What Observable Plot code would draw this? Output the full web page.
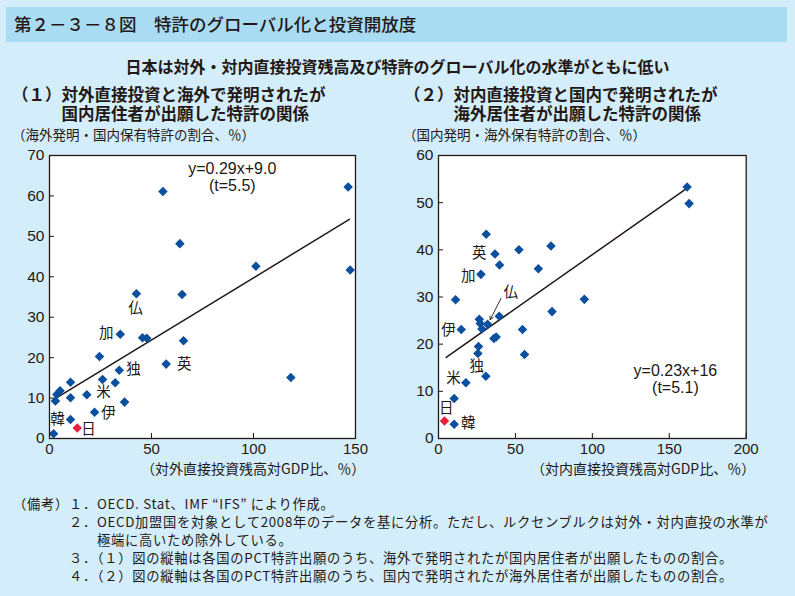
<!DOCTYPE html>
<html><head><meta charset="utf-8">
<script src="https://cdn.jsdelivr.net/npm/d3@7"></script>
<script src="https://cdn.jsdelivr.net/npm/@observablehq/plot@0.6"></script>
<style>
body{margin:0;}
#page{position:relative;width:795px;height:596px;background:#d3eefa;overflow:hidden;font-family:"Noto Sans CJK JP",sans-serif;color:#231815;}
.t{position:absolute;white-space:nowrap;}
.pre{white-space:pre;}
.plot{position:absolute;}
</style></head><body><div id="page">
<div class="t" style="left:6px;top:7px;width:781px;height:35px;background:#a9dcf3;"></div>
<div class="t" style="left:14px;top:13px;font-size:17.5px;line-height:22px;font-weight:500;">第２－３－８図　特許のグローバル化と投資開放度</div>
<div class="t" style="left:0;width:795px;text-align:center;top:56px;font-size:16px;line-height:20px;font-weight:bold;">日本は対外・対内直接投資残高及び特許のグローバル化の水準がともに低い</div>
<div id="title1" class="t pre" style="left:12px;top:85px;font-size:16.5px;line-height:19px;font-weight:bold;"></div>
<div id="title2" class="t pre" style="left:404px;top:85px;font-size:16.5px;line-height:19px;font-weight:bold;"></div>
<div class="t" style="left:12px;top:126px;font-size:13.5px;line-height:16px;">（海外発明・国内保有特許の割合、％）</div>
<div class="t" style="left:403px;top:126px;font-size:13.5px;line-height:16px;">（国内発明・海外保有特許の割合、％）</div>
<div id="p1" class="plot" style="left:0;top:140px;"></div>
<div id="p2" class="plot" style="left:390px;top:140px;"></div>
<div class="t" style="left:141px;top:460px;font-size:14px;line-height:16px;">（対外直接投資残高対GDP比、％）</div>
<div class="t" style="left:531px;top:460px;font-size:14px;line-height:16px;">（対内直接投資残高対GDP比、％）</div>
<div id="notes" class="t pre" style="left:13px;top:495px;font-size:13.3px;line-height:18px;letter-spacing:0.7px;"></div>
</div>
<script>
// ---- Panel 1: outward FDI stock (% of GDP) vs share of foreign-invented, domestically owned patents
const outwardX = [2.0, 10.3, 22.1, 36.8, 2.9, 10.3, 18.3, 3.6, 5.2, 10.3, 26.0, 32.2, 34.2, 24.5, 57.2, 65.7, 45.6, 47.7, 34.7, 118.3, 42.6, 65.0, 55.6, 63.9, 101.2, 146.4, 147.4];
const outwardY = [1.2, 4.7, 6.5, 9.0, 9.3, 10.1, 10.8, 10.9, 11.8, 13.9, 14.6, 13.8, 16.9, 20.3, 18.4, 24.2, 24.9, 24.8, 25.8, 15.1, 35.8, 35.6, 61.1, 48.2, 42.6, 62.2, 41.7];
const japan1 = [{x: 13.6, y: 2.6}];
const fit1 = [{x: 3, y: 9.9}, {x: 147, y: 54.2}];
const labelNames1 = ["仏", "加", "独", "英", "米", "伊", "韓", "日"];
const labelX1 = [42.1, 27.8, 41.2, 66.0, 26.5, 28.9, 3.9, 19.1];
const labelY1 = [32.1, 25.9, 17.0, 18.3, 11.3, 6.3, 4.7, 2.2];
const eq1 = ["y=0.29x+9.0", "(t=5.5)"];
const eqPos1 = {x: 89.6, y: [66.7, 62.5]};
const xTicks1 = [0, 50, 100, 150];
const yTicks1 = [0, 10, 20, 30, 40, 50, 60, 70];

// ---- Panel 2: inward FDI stock (% of GDP) vs share of domestically invented, foreign-owned patents
const inwardX = [10.2, 10.2, 17.8, 30.8, 25.6, 26.0, 14.8, 36.0, 37.5, 54.6, 55.9, 73.8, 26.5, 27.1, 28.2, 31.9, 39.5, 94.8, 11.1, 27.6, 39.7, 36.7, 31.0, 52.3, 73.1, 64.9, 161.6, 162.9];
const inwardY = [3.0, 8.5, 11.8, 13.2, 18.0, 19.5, 23.1, 21.2, 21.5, 23.1, 17.8, 26.9, 25.3, 24.4, 23.2, 24.2, 25.9, 29.5, 29.4, 34.8, 36.8, 39.1, 43.3, 40.0, 40.8, 36.0, 53.3, 49.8];
const japan2 = [{x: 3.9, y: 3.7}];
const fit2 = [{x: 5, y: 17.2}, {x: 161.6, y: 53.1}];
const labelNames2 = ["英", "加", "仏", "伊", "独", "米", "日", "韓"];
const labelX2 = [26.5, 19.3, 46.9, 6.5, 24.8, 9.8, 5.1, 19.3];
const labelY2 = [39.2, 34.3, 31.0, 23.0, 15.2, 12.8, 6.3, 3.2];
const arrow2 = [{x1: 40.6, y1: 29.7, x2: 33.6, y2: 25.2}];
const eq2 = ["y=0.23x+16", "(t=5.1)"];
const eqPos2 = {x: 154, y: [14.4, 10.8]};
const xTicks2 = [0, 50, 100, 150, 200];
const yTicks2 = [0, 10, 20, 30, 40, 50, 60];

const panelTitle1 = ["（１）対外直接投資と海外で発明されたが", "国内居住者が出願した特許の関係"];
const panelTitle2 = ["（２）対内直接投資と国内で発明されたが", "海外居住者が出願した特許の関係"];
const notesHead = "（備考）";
const notes = [
  ["１．OECD. Stat、IMF “IFS” により作成。"],
  ["２．OECD加盟国を対象として2008年のデータを基に分析。ただし、ルクセンブルクは対外・対内直投の水準が", "極端に高いため除外している。"],
  ["３．（１）図の縦軸は各国のPCT特許出願のうち、海外で発明されたが国内居住者が出願したものの割合。"],
  ["４．（２）図の縦軸は各国のPCT特許出願のうち、国内で発明されたが海外居住者が出願したものの割合。"]
];

const INK = "#231815";
const BLUE = "#0b4f9f";
const RED = "#e6203a";
const CJK = "Noto Sans CJK JP";

document.getElementById("title1").textContent = panelTitle1[0] + "\n　　　" + panelTitle1[1];
document.getElementById("title2").textContent = panelTitle2[0] + "\n　　　" + panelTitle2[1];
const noteLines = [];
notes.forEach((item, i) => {
  item.forEach((line, j) => {
    const prefix = (i === 0 && j === 0) ? notesHead : "　　　　";
    noteLines.push(prefix + (j > 0 ? "　　" : "") + line);
  });
});
document.getElementById("notes").textContent = noteLines.join("\n");

function panel({xs, ys, japan, fit, names, lx, ly, eq, eqPos, xTicks, yTicks, xDomain, yDomain, width, marginLeft, marginRight, arrows}) {
  const pts = xs.map((x, i) => ({x, y: ys[i]}));
  const labels = names.map((n, i) => ({n, x: lx[i], y: ly[i]}));
  const eqs = eq.map((t, i) => ({t, x: eqPos.x, y: eqPos.y[i]}));
  const marks = [
    Plot.frame({fill: "white"}),
    Plot.line(fit, {x: "x", y: "y", stroke: INK, strokeWidth: 1.5}),
    Plot.dot(pts, {x: "x", y: "y", symbol: "diamond2", r: 4.3, fill: BLUE, stroke: "none"}),
    Plot.dot(japan, {x: "x", y: "y", symbol: "diamond2", r: 4.3, fill: RED, stroke: "none"}),
    Plot.text(labels, {x: "x", y: "y", text: "n", fontFamily: CJK, fontSize: 14.5, fill: INK}),
    Plot.text(eqs, {x: "x", y: "y", text: "t", fontFamily: "Liberation Sans", fontSize: 16, fill: INK}),
    Plot.axisX({ticks: xTicks, tickSize: -5, tickPadding: 10, tickFormat: d => d, fontSize: 15, fontFamily: "Liberation Sans", stroke: INK, fill: INK}),
    Plot.axisY({ticks: yTicks, tickSize: -5, tickPadding: 10, tickFormat: d => d, fontSize: 15.5, fontFamily: "Liberation Sans", stroke: INK, fill: INK}),
    Plot.frame({stroke: INK, strokeWidth: 1.3})
  ];
  if (arrows) marks.splice(4, 0, Plot.arrow(arrows, {x1: "x1", y1: "y1", x2: "x2", y2: "y2", stroke: INK, strokeWidth: 0.9, headLength: 6, bend: 0}));
  return Plot.plot({
    width, height: 340,
    marginLeft, marginRight, marginTop: 15, marginBottom: 42,
    x: {domain: xDomain, label: null},
    y: {domain: yDomain, label: null},
    style: {background: "transparent", color: INK, fontFamily: "Liberation Sans", fontSize: "15px", overflow: "visible"},
    marks
  });
}

document.getElementById("p1").append(panel({
  xs: outwardX, ys: outwardY, japan: japan1, fit: fit1,
  names: labelNames1, lx: labelX1, ly: labelY1, eq: eq1, eqPos: eqPos1,
  xTicks: xTicks1, yTicks: yTicks1, xDomain: [0, 150], yDomain: [0, 70],
  width: 380, marginLeft: 49, marginRight: 25
}));
document.getElementById("p2").append(panel({
  xs: inwardX, ys: inwardY, japan: japan2, fit: fit2,
  names: labelNames2, lx: labelX2, ly: labelY2, eq: eq2, eqPos: eqPos2,
  xTicks: xTicks2, yTicks: yTicks2, xDomain: [0, 200], yDomain: [0, 60],
  width: 400, marginLeft: 48, marginRight: 44.3, arrows: arrow2
}));
</script>
</body></html>
